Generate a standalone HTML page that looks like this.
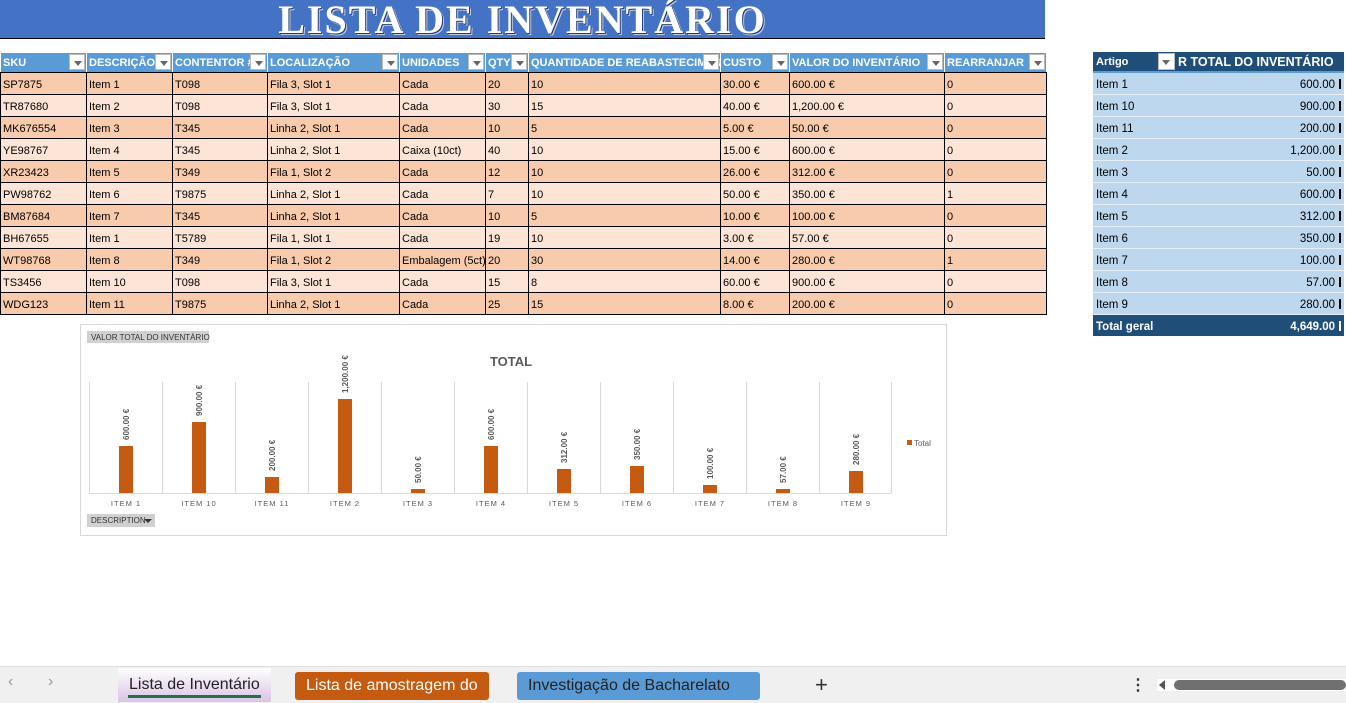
<!DOCTYPE html>
<html><head><meta charset="utf-8"><style>
body{margin:0;width:1346px;height:702px;position:relative;overflow:hidden;background:#fff;font-family:"Liberation Sans",sans-serif;}
.title{position:absolute;left:0;top:0;width:1045px;height:38px;background:#4472c4;border-bottom:1px solid #000;text-align:center;color:#fff;font-family:"Liberation Serif",serif;font-size:40px;line-height:40px;letter-spacing:2px;text-shadow:1px 1px 0 #1f3a70,2px 2px 0 #c0c8e0;font-weight:bold}
table{border-collapse:collapse;table-layout:fixed;position:absolute;font-size:11px}
#t{left:0;top:52px;width:1046px}
#t td{height:18px;border:1px solid #000;padding:3px 2px 0;white-space:nowrap;overflow:hidden;color:#000;box-sizing:content-box}
#t th{height:19px;background:#5b9bd5;color:#fff;text-align:left;font-weight:bold;padding:0 2px;border:1px solid #fff;border-bottom:1px solid #000;white-space:nowrap;overflow:hidden;position:relative;font-size:11px}
#t th i{position:absolute;right:1px;top:1px;width:16px;height:16px;background:#fff;border:1px solid #bbb;box-sizing:border-box}
#t th i:after{content:"";position:absolute;left:4px;top:6px;border:4px solid transparent;border-top:5px solid #666}
#t tr:nth-child(even) td{background:#f8cbad}
#t tr:nth-child(odd) td{background:#fce4d6}
#p{left:1093px;top:52px;width:251px;font-size:11px}
#p td{height:19px;background:#bdd7ee;border-bottom:1px solid #e6eef8;padding:2px 3px 0;color:#000;font-size:11.5px;box-sizing:content-box}
#p td.r{text-align:right}
#p td.r b{display:inline-block;width:2px;height:10px;background:#000;margin-left:4px;vertical-align:-1px}
#p tr.tot td.r b{background:#fff}
#p th{background:#1f4e79;color:#fff;height:19px;text-align:left;padding:0 3px;position:relative;border-bottom:2px solid #5b9bd5}
#p tr.tot td{background:#1f4e79;color:#fff;font-weight:bold;border:0}
.chart{position:absolute;left:80px;top:324px;width:865px;height:210px;border:1px solid #d9d9d9}
.tabs{position:absolute;left:0;top:666px;width:1346px;height:36px;background:#f0f0f0;border-top:1px solid #ddd;font-size:16px}
.tab{position:absolute;top:5px;height:28px;line-height:28px;padding:0 11px;border-radius:3px;color:#fff}
</style></head><body>
<div class="title">LISTA DE INVENTÁRIO</div>
<table id="t">
<colgroup><col style="width:86px"><col style="width:86px"><col style="width:95px"><col style="width:132px"><col style="width:86px"><col style="width:43px"><col style="width:192px"><col style="width:69px"><col style="width:155px"><col style="width:102px"></colgroup>
<tr><th>SKU<i></i></th><th>DESCRIÇÃO<i></i></th><th>CONTENTOR #<i></i></th><th>LOCALIZAÇÃO<i></i></th><th>UNIDADES<i></i></th><th>QTY<i></i></th><th>QUANTIDADE DE REABASTECIMENTO<i></i></th><th>CUSTO<i></i></th><th>VALOR DO INVENTÁRIO<i></i></th><th>REARRANJAR<i></i></th></tr>
<tr><td>SP7875</td><td>Item 1</td><td>T098</td><td>Fila 3, Slot 1</td><td>Cada</td><td>20</td><td>10</td><td>30.00 €</td><td>600.00 €</td><td>0</td></tr>
<tr><td>TR87680</td><td>Item 2</td><td>T098</td><td>Fila 3, Slot 1</td><td>Cada</td><td>30</td><td>15</td><td>40.00 €</td><td>1,200.00 €</td><td>0</td></tr>
<tr><td>MK676554</td><td>Item 3</td><td>T345</td><td>Linha 2, Slot 1</td><td>Cada</td><td>10</td><td>5</td><td>5.00 €</td><td>50.00 €</td><td>0</td></tr>
<tr><td>YE98767</td><td>Item 4</td><td>T345</td><td>Linha 2, Slot 1</td><td>Caixa (10ct)</td><td>40</td><td>10</td><td>15.00 €</td><td>600.00 €</td><td>0</td></tr>
<tr><td>XR23423</td><td>Item 5</td><td>T349</td><td>Fila 1, Slot 2</td><td>Cada</td><td>12</td><td>10</td><td>26.00 €</td><td>312.00 €</td><td>0</td></tr>
<tr><td>PW98762</td><td>Item 6</td><td>T9875</td><td>Linha 2, Slot 1</td><td>Cada</td><td>7</td><td>10</td><td>50.00 €</td><td>350.00 €</td><td>1</td></tr>
<tr><td>BM87684</td><td>Item 7</td><td>T345</td><td>Linha 2, Slot 1</td><td>Cada</td><td>10</td><td>5</td><td>10.00 €</td><td>100.00 €</td><td>0</td></tr>
<tr><td>BH67655</td><td>Item 1</td><td>T5789</td><td>Fila 1, Slot 1</td><td>Cada</td><td>19</td><td>10</td><td>3.00 €</td><td>57.00 €</td><td>0</td></tr>
<tr><td>WT98768</td><td>Item 8</td><td>T349</td><td>Fila 1, Slot 2</td><td>Embalagem (5ct)</td><td>20</td><td>30</td><td>14.00 €</td><td>280.00 €</td><td>1</td></tr>
<tr><td>TS3456</td><td>Item 10</td><td>T098</td><td>Fila 3, Slot 1</td><td>Cada</td><td>15</td><td>8</td><td>60.00 €</td><td>900.00 €</td><td>0</td></tr>
<tr><td>WDG123</td><td>Item 11</td><td>T9875</td><td>Linha 2, Slot 1</td><td>Cada</td><td>25</td><td>15</td><td>8.00 €</td><td>200.00 €</td><td>0</td></tr>
</table>
<table id="p">
<colgroup><col style="width:82px"><col style="width:169px"></colgroup>
<tr><th>Artigo<span style="position:absolute;right:0;top:1px;width:17px;height:17px;background:#fff;border:1px solid #bbb;box-sizing:border-box"><span style="position:absolute;left:3px;top:6px;border:4px solid transparent;border-top:5px solid #666"></span></span></th><th style="font-size:12.5px;white-space:nowrap;overflow:hidden">R TOTAL DO INVENTÁRIO</th></tr>
<tr><td>Item 1</td><td class="r">600.00<b></b></td></tr>
<tr><td>Item 10</td><td class="r">900.00<b></b></td></tr>
<tr><td>Item 11</td><td class="r">200.00<b></b></td></tr>
<tr><td>Item 2</td><td class="r">1,200.00<b></b></td></tr>
<tr><td>Item 3</td><td class="r">50.00<b></b></td></tr>
<tr><td>Item 4</td><td class="r">600.00<b></b></td></tr>
<tr><td>Item 5</td><td class="r">312.00<b></b></td></tr>
<tr><td>Item 6</td><td class="r">350.00<b></b></td></tr>
<tr><td>Item 7</td><td class="r">100.00<b></b></td></tr>
<tr><td>Item 8</td><td class="r">57.00<b></b></td></tr>
<tr><td>Item 9</td><td class="r">280.00<b></b></td></tr>
<tr class="tot"><td>Total geral</td><td class="r">4,649.00<b></b></td></tr>
</table>
<div class="chart"></div>
<svg width="1346" height="702" style="position:absolute;left:0;top:0" font-family="Liberation Sans, sans-serif">
<rect x="87" y="331" width="122" height="12" fill="#d0d0d0"/>
<text x="91" y="340" font-size="8" fill="#333">VALOR TOTAL DO INVENTÁRIO</text>
<text x="511" y="366" font-size="13" font-weight="bold" fill="#595959" text-anchor="middle">TOTAL</text>
<g stroke="#d9d9d9" stroke-width="1">
<line x1="89.5" y1="382" x2="89.5" y2="493"/><line x1="162.5" y1="382" x2="162.5" y2="493"/><line x1="235.5" y1="382" x2="235.5" y2="493"/><line x1="308.5" y1="382" x2="308.5" y2="493"/><line x1="381.5" y1="382" x2="381.5" y2="493"/><line x1="454.5" y1="382" x2="454.5" y2="493"/><line x1="527.5" y1="382" x2="527.5" y2="493"/><line x1="600.5" y1="382" x2="600.5" y2="493"/><line x1="673.5" y1="382" x2="673.5" y2="493"/><line x1="746.5" y1="382" x2="746.5" y2="493"/><line x1="819.5" y1="382" x2="819.5" y2="493"/><line x1="891.5" y1="382" x2="891.5" y2="493"/>
<line x1="89" y1="493.5" x2="891" y2="493.5"/>
</g>
<g fill="#c55a11">
<rect x="119" y="446" width="14" height="47"/><rect x="192" y="422" width="14" height="71"/><rect x="265" y="477" width="14" height="16"/><rect x="338" y="399" width="14" height="94"/><rect x="411" y="489" width="14" height="4"/><rect x="484" y="446" width="14" height="47"/><rect x="557" y="469" width="14" height="24"/><rect x="630" y="466" width="14" height="27"/><rect x="703" y="485" width="14" height="8"/><rect x="776" y="489" width="14" height="4"/><rect x="849" y="471" width="14" height="22"/>
</g>
<g font-size="8" fill="#595959" font-weight="bold">
<text transform="translate(129,440) rotate(-90)">600.00 €</text>
<text transform="translate(202,416) rotate(-90)">900.00 €</text>
<text transform="translate(275,471) rotate(-90)">200.00 €</text>
<text transform="translate(348,393) rotate(-90)">1,200.00 €</text>
<text transform="translate(421,483) rotate(-90)">50.00 €</text>
<text transform="translate(494,440) rotate(-90)">600.00 €</text>
<text transform="translate(567,463) rotate(-90)">312.00 €</text>
<text transform="translate(640,460) rotate(-90)">350.00 €</text>
<text transform="translate(713,479) rotate(-90)">100.00 €</text>
<text transform="translate(786,483) rotate(-90)">57.00 €</text>
<text transform="translate(859,465) rotate(-90)">280.00 €</text>
</g>
<g font-size="7.5" fill="#595959" text-anchor="middle" letter-spacing="1">
<text x="126" y="506">ITEM 1</text><text x="199" y="506">ITEM 10</text><text x="272" y="506">ITEM 11</text><text x="345" y="506">ITEM 2</text><text x="418" y="506">ITEM 3</text><text x="491" y="506">ITEM 4</text><text x="564" y="506">ITEM 5</text><text x="637" y="506">ITEM 6</text><text x="710" y="506">ITEM 7</text><text x="783" y="506">ITEM 8</text><text x="856" y="506">ITEM 9</text>
</g>
<rect x="907" y="440" width="5" height="5" fill="#c55a11"/>
<text x="914" y="446" font-size="8" fill="#595959">Total</text>
<rect x="87" y="514" width="68" height="13" fill="#d0d0d0"/>
<text x="91" y="523" font-size="8" fill="#333">DESCRIPTION</text>
<path d="M144 519 L152 519 L148 523 Z" fill="#333"/>
</svg>
<div class="tabs">
<span style="position:absolute;left:8px;top:6px;color:#999">&#8249;</span>
<span style="position:absolute;left:48px;top:6px;color:#999">&#8250;</span>
<div class="tab" style="left:118px;top:1px;height:34px;line-height:34px;background:linear-gradient(#fff,#d8c4e4);color:#222;border-radius:0">Lista de Inventário<div style="position:absolute;left:10px;right:10px;bottom:4px;height:3px;background:#217346"></div></div>
<div class="tab" style="left:295px;background:#c55a11">Lista de amostragem do</div>
<div class="tab" style="left:517px;background:#5b9bd5;color:#222;width:221px">Investigação de Bacharelato</div>
<span style="position:absolute;left:815px;top:5px;font-size:22px;color:#333">+</span>
<span style="position:absolute;left:1130px;top:8px;color:#333;font-weight:bold">⋮</span>
<div style="position:absolute;left:1157px;top:12px;width:189px;height:12px;background:#fff"></div>
<div style="position:absolute;left:1174px;top:13px;width:172px;height:10px;border-radius:5px;background:#707070"></div>
<div style="position:absolute;top:13px;border:5px solid transparent;border-right:6px solid #555;width:0;height:0;left:1154px"></div>
</div>
</body></html>
